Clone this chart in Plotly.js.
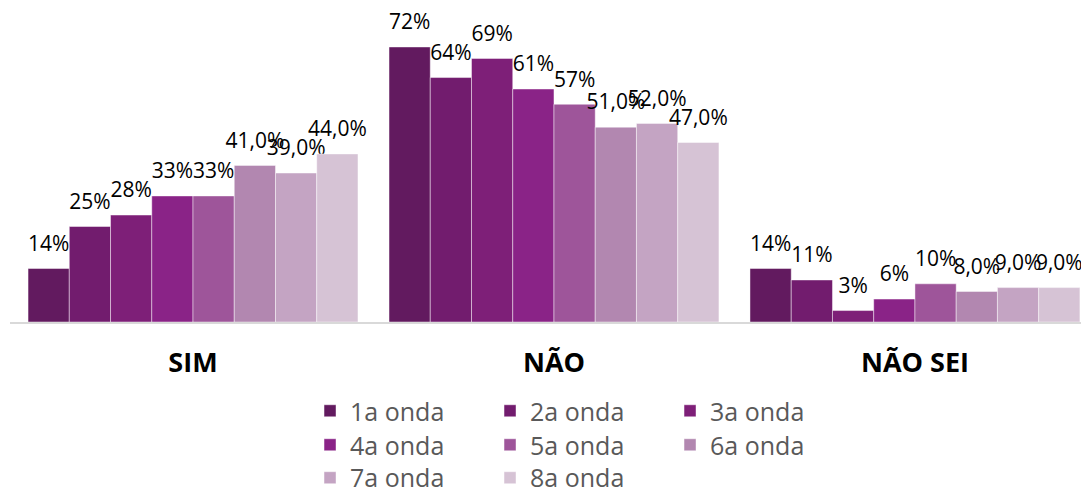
<!DOCTYPE html>
<html>
<head>
<meta charset="utf-8">
<script src="https://cdn.plot.ly/plotly-3.0.1.min.js"></script>
<style>html,body{margin:0;padding:0;background:#fff;}#chart{width:1081px;height:492px;}</style>
</head>
<body>
<div id="chart"></div>
<script>
const categories = ["SIM", "NÃO", "NÃO SEI"];
const seriesNames = ["1a onda", "2a onda", "3a onda", "4a onda", "5a onda", "6a onda", "7a onda", "8a onda"];
const onda1 = [14, 72, 14];
const onda2 = [25, 64, 11];
const onda3 = [28, 69, 3];
const onda4 = [33, 61, 6];
const onda5 = [33, 57, 10];
const onda6 = [41.0, 51.0, 8.0];
const onda7 = [39.0, 52.0, 9.0];
const onda8 = [44.0, 47.0, 9.0];
const decimalLabels = [false, false, false, false, false, true, true, true];
const colors = ["#621A5F", "#721C6E", "#7E1F78", "#8A2387", "#9E559A", "#B287B0", "#C4A4C3", "#D6C3D5"];
const legendRow = ["legend", "legend", "legend", "legend2", "legend2", "legend2", "legend3", "legend3"];

const allSeries = [onda1, onda2, onda3, onda4, onda5, onda6, onda7, onda8];
function fmt(v, dec) {
  const s = dec ? v.toFixed(1).replace('.', ',') + '%' : Math.round(v) + '%';
  return '<span style="font-size:21px">' + s + '</span><br><span style="color:rgba(0,0,0,0)">.</span>';
}
const traces = allSeries.map((vals, i) => ({
  type: 'bar',
  name: seriesNames[i],
  legend: legendRow[i],
  x: categories,
  y: vals,
  text: vals.map(v => fmt(v, decimalLabels[i])),
  textposition: 'outside',
  constraintext: 'none',
  textfont: {family: 'Open Sans, sans-serif', size: 9, color: '#000'},
  cliponaxis: false,
  marker: {color: colors[i], line: {color: 'rgba(255,255,255,0.6)', width: 0.75}},
  hoverinfo: 'none'
}));

function legendCfg(yc) {
  return {
    orientation: 'h', xref: 'container', yref: 'container',
    x: 0.2868, xanchor: 'left', y: yc, yanchor: 'middle',
    entrywidth: 135, entrywidthmode: 'pixels',
    font: {family: 'Open Sans, sans-serif', size: 25, color: '#595959'},
    traceorder: 'normal', itemclick: false, itemdoubleclick: false,
    bgcolor: 'rgba(0,0,0,0)', borderwidth: 0
  };
}

const layout = {
  width: 1081, height: 492,
  margin: {l: 10, r: 0, t: 0, b: 170},
  paper_bgcolor: '#fff', plot_bgcolor: '#fff',
  barmode: 'group', bargap: 0.086, bargroupgap: 0,
  showlegend: true,
  font: {family: 'Open Sans, sans-serif'},
  xaxis: {
    range: [-0.507, 2.46],
    showline: true, linecolor: '#D9D9D9', linewidth: 2,
    ticks: '', showgrid: false, zeroline: false,
    tickfont: {family: 'Open Sans, sans-serif', size: 27, color: '#000', weight: 'bold'},
    ticklabelstandoff: 16
  },
  yaxis: {
    range: [0, 84.3], visible: false, showgrid: false, zeroline: false
  },
  legend: legendCfg(0.1646),
  legend2: legendCfg(0.0955),
  legend3: legendCfg(0.0285)
};

Plotly.newPlot('chart', traces, layout, {displayModeBar: false, staticPlot: true});
</script>
</body>
</html>
